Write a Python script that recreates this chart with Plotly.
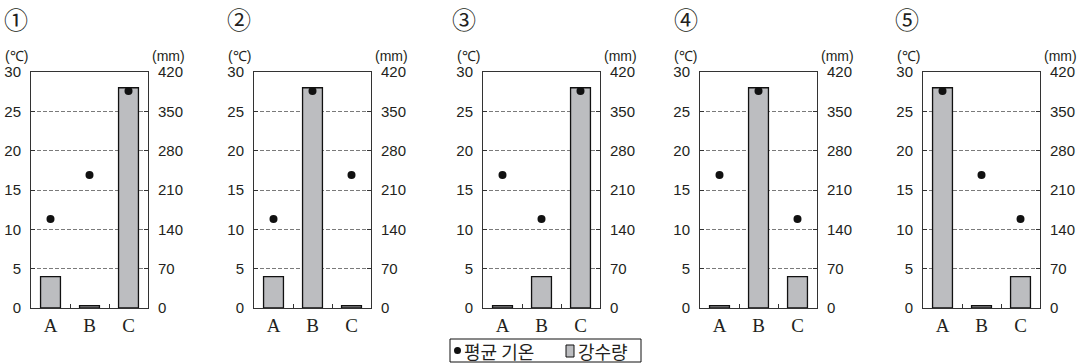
import plotly.graph_objects as go

W, H = 1078, 363

categories = ["A", "B", "C"]
panel_labels = ["①", "②", "③", "④", "⑤"]

temp_p1 = [11.3, 16.9, 27.6]
temp_p2 = [11.3, 27.6, 16.9]
temp_p3 = [16.9, 11.3, 27.6]
temp_p4 = [16.9, 27.6, 11.3]
temp_p5 = [27.6, 16.9, 11.3]

precip_p1 = [56, 4, 392]
precip_p2 = [56, 392, 4]
precip_p3 = [4, 56, 392]
precip_p4 = [4, 392, 56]
precip_p5 = [392, 4, 56]

temp_ticks = [0, 5, 10, 15, 20, 25, 30]
precip_ticks = [0, 70, 140, 210, 280, 350, 420]

temps = [temp_p1, temp_p2, temp_p3, temp_p4, temp_p5]
precips = [precip_p1, precip_p2, precip_p3, precip_p4, precip_p5]

legend_temp = "평균 기온"
legend_precip = "강수량"

# layout (pixels)
plot_left = [31, 254, 483, 700, 923]
plot_w = 117
plot_top, plot_bot = 72, 308
circle_cx = [16, 239, 464, 686, 907]

TXT = "#231f20"
AX = "#333333"
BAR = "#bcbdc0"
SANS = "Liberation Sans, Arial, sans-serif"
SERIF = "Liberation Serif, Times New Roman, serif"
KR = "Noto Sans CJK KR, sans-serif"

def px(x):
    return x / W

def py(y):
    return (H - y) / H

fig = go.Figure()
layout = {}
annotations = []
ydom = [py(plot_bot), py(plot_top)]

for i in range(5):
    k = i + 1
    xa = "x" if k == 1 else f"x{k}"
    xkey = "xaxis" if k == 1 else f"xaxis{k}"
    ybase_n = 2 * k - 1
    ytemp_n = 2 * k
    ybase = "y" if ybase_n == 1 else f"y{ybase_n}"
    ybkey = "yaxis" if ybase_n == 1 else f"yaxis{ybase_n}"
    ytemp = f"y{ytemp_n}"
    ytkey = f"yaxis{ytemp_n}"

    fig.add_trace(go.Bar(
        x=categories, y=precips[i], xaxis=xa, yaxis=ybase, width=0.51,
        marker=dict(color=BAR, line=dict(color="#111111", width=1.3)),
        showlegend=False, hoverinfo="skip"))
    fig.add_trace(go.Scatter(
        x=categories, y=temps[i], xaxis=xa, yaxis=ytemp, mode="markers",
        marker=dict(color="#111111", size=8), showlegend=False,
        hoverinfo="skip", cliponaxis=False))

    x0 = px(plot_left[i])
    x1 = px(plot_left[i] + plot_w)
    layout[xkey] = dict(
        domain=[x0, x1], anchor=ybase, type="category", automargin=False,
        categoryorder="array", categoryarray=categories,
        range=[-0.5, 2.5], showline=True, linecolor=AX, linewidth=1,
        mirror=True, ticks="inside", ticklen=4, tickcolor=AX,
        tickson="boundaries", showgrid=False, zeroline=False,
        tickfont=dict(family=SERIF, size=19, color=TXT), ticklabelstandoff=0)
    layout[ybkey] = dict(
        domain=ydom, anchor=xa, side="right", range=[0, 420], automargin=False,
        tickvals=precip_ticks, showline=True, linecolor=AX, linewidth=1,
        ticks="inside", ticklen=4, tickcolor=AX,
        showgrid=True, gridcolor="#7a7a7a", griddash="4px,2px", gridwidth=1,
        zeroline=False, tickfont=dict(family=SANS, size=15, color=TXT),
        ticklabelstandoff=6)
    layout[ytkey] = dict(
        domain=ydom, anchor=xa, overlaying=ybase, side="left", range=[0, 30],
        automargin=False,
        tickvals=temp_ticks, showline=True, linecolor=AX, linewidth=1,
        ticks="inside", ticklen=4, tickcolor=AX, showgrid=False,
        zeroline=False, tickfont=dict(family=SANS, size=15, color=TXT),
        ticklabelstandoff=6)

    annotations.append(dict(
        x=px(circle_cx[i]), y=py(19), xref="paper", yref="paper",
        text=panel_labels[i], showarrow=False, xanchor="center", yanchor="middle",
        font=dict(family=KR, size=24, color=TXT)))
    annotations.append(dict(
        x=px(plot_left[i] - 15), y=py(56), xref="paper", yref="paper",
        text="(℃)", showarrow=False, xanchor="center", yanchor="middle",
        font=dict(family=SANS, size=14, color=TXT)))
    annotations.append(dict(
        x=px(plot_left[i] + plot_w + 20), y=py(56), xref="paper", yref="paper",
        text="(mm)", showarrow=False, xanchor="center", yanchor="middle",
        font=dict(family=SANS, size=14, color=TXT)))

# legend box
shapes = [
    dict(type="rect", xref="paper", yref="paper",
         x0=px(450), x1=px(641), y0=py(362), y1=py(339),
         line=dict(color="#111111", width=1), fillcolor="white"),
    dict(type="rect", xref="paper", yref="paper",
         x0=px(566), x1=px(574), y0=py(357), y1=py(345),
         line=dict(color="#111111", width=1), fillcolor=BAR),
    dict(type="circle", xref="paper", yref="paper",
         x0=px(454), x1=px(461), y0=py(354), y1=py(347),
         line=dict(color="#111111", width=0), fillcolor="#111111"),
]
annotations.append(dict(
    x=px(462), y=py(351), xref="paper", yref="paper", text=legend_temp,
    showarrow=False, xanchor="left", yanchor="middle",
    font=dict(family=KR, size=18, color=TXT)))
annotations.append(dict(
    x=px(576), y=py(351), xref="paper", yref="paper", text=legend_precip,
    showarrow=False, xanchor="left", yanchor="middle",
    font=dict(family=KR, size=18, color=TXT)))

fig.update_layout(
    width=W, height=H, margin=dict(l=0, r=0, t=0, b=0, autoexpand=False),
    paper_bgcolor="white", plot_bgcolor="white",
    showlegend=False, hovermode=False,
    annotations=annotations, shapes=shapes, **layout)

fig.write_html(
    "out.html",
    config={"displayModeBar": False, "staticPlot": True},
    post_script="document.body.style.margin='0';document.body.style.overflow='hidden';")
